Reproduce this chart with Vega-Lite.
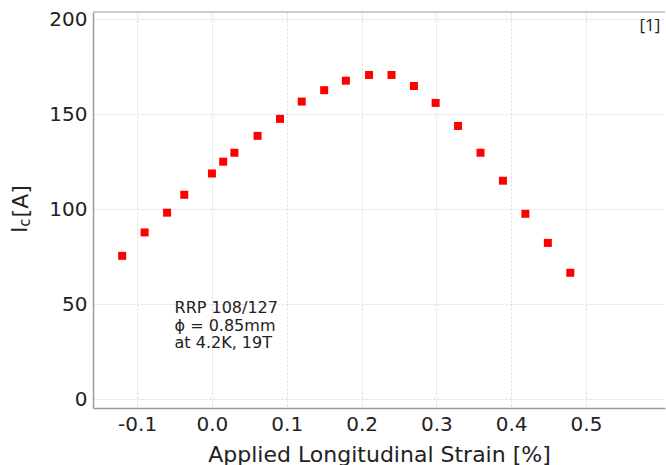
{
  "$schema": "https://vega.github.io/schema/vega-lite/v6.json",
  "width": 572,
  "height": 396,
  "autosize": {"type": "none"},
  "padding": {"left": 93, "top": 12, "right": 1, "bottom": 57},
  "background": "white",
  "config": {
    "view": {"stroke": null},
    "font": "DejaVu Sans",
    "axis": {
      "labelFont": "DejaVu Sans",
      "titleFont": "DejaVu Sans",
      "labelColor": "#222",
      "titleColor": "#222",
      "domainColor": "#999",
      "domainWidth": 1.5,
      "gridColor": "#d6d9e6",
      "gridDash": [2, 2],
      "gridWidth": 1,
      "ticks": false
    }
  },
  "layer": [
    {
      "data": {"values": [
        {"strain": -0.12, "ic": 75.5},
        {"strain": -0.09, "ic": 87.8},
        {"strain": -0.06, "ic": 98.2},
        {"strain": -0.037, "ic": 107.6},
        {"strain": 0.0, "ic": 118.8},
        {"strain": 0.015, "ic": 125.0},
        {"strain": 0.03, "ic": 129.7},
        {"strain": 0.061, "ic": 138.6},
        {"strain": 0.091, "ic": 147.5},
        {"strain": 0.12, "ic": 156.6},
        {"strain": 0.15, "ic": 162.6},
        {"strain": 0.179, "ic": 167.6},
        {"strain": 0.21, "ic": 170.6},
        {"strain": 0.24, "ic": 170.6},
        {"strain": 0.27, "ic": 164.8},
        {"strain": 0.299, "ic": 155.9},
        {"strain": 0.329, "ic": 143.8},
        {"strain": 0.359, "ic": 129.7},
        {"strain": 0.389, "ic": 115.0},
        {"strain": 0.419, "ic": 97.6},
        {"strain": 0.449, "ic": 82.3},
        {"strain": 0.479, "ic": 66.6}
      ]},
      "mark": {"type": "square", "filled": true, "color": "#ff0000", "size": 64, "opacity": 1},
      "encoding": {
        "x": {
          "field": "strain",
          "type": "quantitative",
          "scale": {"domain": [-0.159, 0.6056], "nice": false, "zero": false},
          "axis": {
            "values": [-0.1, 0, 0.1, 0.2, 0.3, 0.4, 0.5],
            "format": ".1f",
            "labelExpr": "replace(datum.label, '\u2212', '-')",
            "labelFontSize": 20,
            "labelPadding": 6,
            "title": "Applied Longitudinal Strain [%]",
            "titleFontSize": 22,
            "titleFontWeight": "normal",
            "titlePadding": 10
          }
        },
        "y": {
          "field": "ic",
          "type": "quantitative",
          "scale": {"domain": [-4.5, 203.7], "nice": false, "zero": false},
          "axis": {
            "values": [0, 50, 100, 150, 200],
            "labelFontSize": 20,
            "labelPadding": 6,
            "title": null
          }
        }
      }
    },
    {
      "data": {"values": [{}]},
      "mark": {"type": "rule", "color": "#bbb", "strokeWidth": 1.5},
      "encoding": {
        "x": {"datum": -0.159},
        "x2": {"datum": 0.6056},
        "y": {"datum": 203.7}
      }
    },
    {
      "data": {"values": [{}]},
      "mark": {
        "type": "text",
        "text": ["RRP 108/127", "ϕ = 0.85mm", "at 4.2K, 19T"],
        "font": "DejaVu Sans",
        "fontSize": 16,
        "lineHeight": 17.5,
        "align": "left",
        "baseline": "alphabetic",
        "color": "#222"
      },
      "encoding": {"x": {"datum": -0.05}, "y": {"datum": 45.4}}
    },
    {
      "data": {"values": [{}]},
      "mark": {
        "type": "text",
        "text": "[1]",
        "font": "Open Sans",
        "fontSize": 17,
        "align": "right",
        "baseline": "alphabetic",
        "color": "#222"
      },
      "encoding": {"x": {"datum": 0.5994}, "y": {"datum": 193.7}}
    },
    {
      "data": {"values": [{}]},
      "mark": {
        "type": "text",
        "text": "I",
        "font": "DejaVu Sans",
        "fontSize": 22,
        "angle": 270,
        "align": "left",
        "baseline": "alphabetic",
        "color": "#222"
      },
      "encoding": {"x": {"datum": -0.2473}, "y": {"datum": 87.5}}
    },
    {
      "data": {"values": [{}]},
      "mark": {
        "type": "text",
        "text": "c",
        "font": "DejaVu Sans",
        "fontSize": 15,
        "angle": 270,
        "align": "left",
        "baseline": "alphabetic",
        "color": "#222"
      },
      "encoding": {"x": {"datum": -0.2426}, "y": {"datum": 90.8}}
    },
    {
      "data": {"values": [{}]},
      "mark": {
        "type": "text",
        "text": "[A]",
        "font": "DejaVu Sans",
        "fontSize": 22,
        "angle": 270,
        "align": "left",
        "baseline": "alphabetic",
        "color": "#222"
      },
      "encoding": {"x": {"datum": -0.2459}, "y": {"datum": 95.7}}
    }
  ]
}
